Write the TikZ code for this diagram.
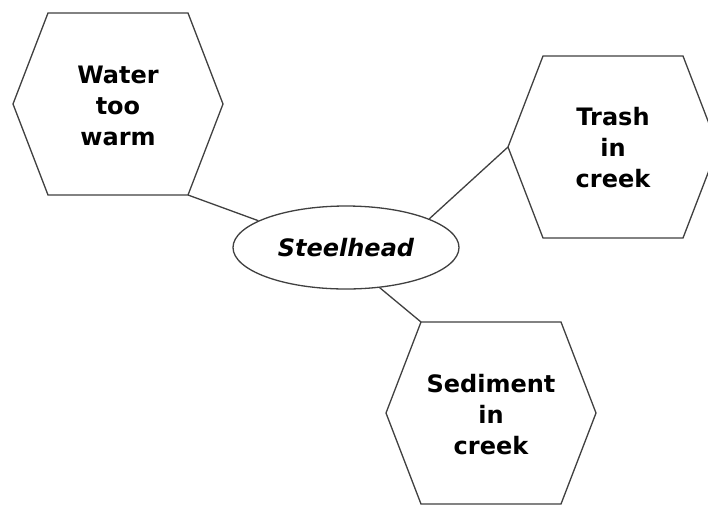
\documentclass[tikz,border=0pt]{standalone}
\usepackage{fontspec}
\setmainfont{DejaVu Sans}
\usetikzlibrary{shapes.geometric}
\tikzset{
  hexline/.style={draw=black!75, line width=1.3pt, line join=miter},
  hextext/.style={align=center, inner sep=0pt, font=\bfseries\fontsize{24}{31}\selectfont},
  centre/.style={ellipse, draw=black!75, line width=1.3pt, minimum width=226pt, minimum height=83pt, inner sep=0pt, font=\bfseries\itshape\fontsize{24}{31}\selectfont},
  link/.style={draw=black!75, line width=1.3pt}
}
\newcommand{\myhexagon}[3]{%
  \begin{scope}[shift={(#2,#3)}]
    \draw[hexline] (-105,0) -- (-70,-91) -- (70,-91) -- (105,0) -- (70,91) -- (-70,91) -- cycle;
    \coordinate (#1-l) at (-105,0);
    \coordinate (#1-tl) at (-70,-91);
    \coordinate (#1-br) at (70,91);
  \end{scope}}
\begin{document}
\begin{tikzpicture}[x=1pt,y=-1pt]
  \clip (0,0) rectangle (708,504);
  \fill[white] (0,0) rectangle (708,504);
  \myhexagon{water}{118}{104}
  \myhexagon{trash}{613}{147}
  \myhexagon{sed}{491}{413}
  \node[hextext] (watert) at (118,106) {Water\\too\\warm};
  \node[hextext] (trasht) at (613,148) {Trash\\in\\creek};
  \node[hextext] (sedt) at (491,415) {Sediment\\in\\creek};
  \node[centre] (st) at (346,247.5) {Steelhead};
  \draw[link] (water-br) -- (st.163.5);
  \draw[link] (trash-l) -- (st.19);
  \draw[link] (sed-tl) -- (st.-50);
\end{tikzpicture}
\end{document}
